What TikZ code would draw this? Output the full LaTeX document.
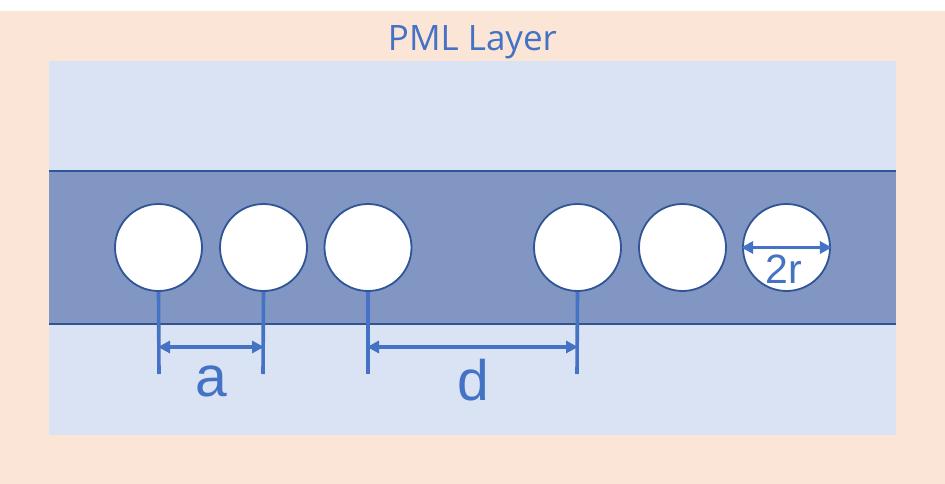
\documentclass[tikz,border=0pt]{standalone}
\usepackage{fontspec}
\setmainfont{Liberation Sans}
\newfontfamily\titlefont{Open Sans}
\usetikzlibrary{arrows.meta}
\definecolor{pmlpeach}{HTML}{FBE5D6}
\definecolor{cladblue}{HTML}{DAE3F3}
\definecolor{coreblue}{HTML}{8196C2}
\definecolor{edgeblue}{HTML}{2F5597}
\definecolor{markblue}{HTML}{4472C4}

\begin{document}
\begin{tikzpicture}[x=1pt,y=-1pt,>={Triangle[length=12pt,width=12pt]},
  hole/.style={circle,draw=edgeblue,line width=1.8pt,fill=white,minimum size=87pt,inner sep=0pt},
  tick/.style={markblue,line width=3.6pt},
  span/.style={<->,markblue,line width=3.6pt,shorten >=-1pt,shorten <=-1pt},
  biglabel/.style={text=markblue,font=\fontsize{57}{57}\selectfont,inner sep=0pt}]

  \useasboundingbox (0,0) rectangle (945,484);
  \fill[pmlpeach] (0,11) rectangle (945,484);
  \fill[cladblue] (49,61) rectangle (896,434.5);
  \fill[coreblue] (49,171) rectangle (896,324);
  \draw[edgeblue,line width=1.9pt] (49,171) -- (896,171) (49,324) -- (896,324);

  \node[text=markblue,font=\titlefont\fontsize{35}{35}\selectfont,inner sep=0pt] (title) at (472.5,42) {PML Layer};

  \node[hole] (h1) at (158.5,247.5) {};
  \node[hole] (h2) at (263.5,247.5) {};
  \node[hole] (h3) at (368,247.5) {};
  \node[hole] (h4) at (577.5,247.5) {};
  \node[hole] (h5) at (682.5,247.5) {};
  \node[hole] (h6) at (786.5,247.5) {};

  \coordinate (a1) at (159,374);
  \coordinate (a2) at (263,374);
  \coordinate (d1) at (368,374);
  \coordinate (d2) at (577,374);
  \coordinate (am1) at (159,347);
  \coordinate (am2) at (263,347);
  \coordinate (dm1) at (368,347);
  \coordinate (dm2) at (577,347);

  \draw[tick] (h1.south) -- (a1);
  \draw[tick] (h2.south) -- (a2);
  \draw[tick] (h3.south) -- (d1);
  \draw[tick] (h4.south) -- (d2);
  \draw[span] (am1) -- (am2);
  \draw[span] (dm1) -- (dm2);
  \draw[span] (h6.west) -- (h6.east);

  \node[biglabel] (alabel) at (211,381) {a};
  \node[biglabel] (dlabel) at (473.5,380) {d};
  \node[biglabel,font=\fontsize{41}{41}\selectfont] (rlabel) at (784,269) {2r};

\end{tikzpicture}
\end{document}
